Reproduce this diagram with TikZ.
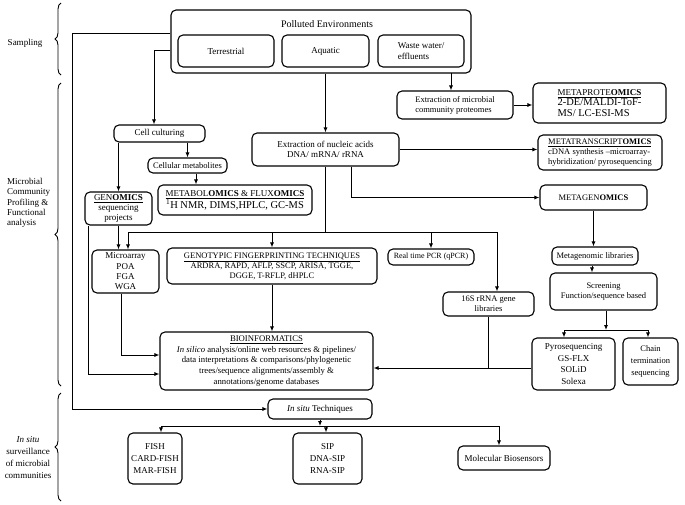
\documentclass[tikz,border=0pt]{standalone}
\usepackage{fontspec}
\setmainfont{Liberation Serif}
\usetikzlibrary{arrows.meta,decorations.pathreplacing}
\newcommand\fs{\fontsize{9}{10.3}\selectfont}
\newcommand\fsm{\fontsize{8.5}{10}\selectfont}
\newcommand\fbig{\fontsize{10.5}{12}\selectfont}
\begin{document}
\begin{tikzpicture}[x=1pt,y=-1pt,
  box/.style={draw, rounded corners=5pt, line width=1.1pt, inner sep=1pt, align=center, font=\fs},
  lbl/.style={inner sep=0pt, font=\fs},
  ln/.style={line width=0.9pt},
  arr/.style={line width=0.9pt, -{Latex[length=5pt,width=4pt]}},
  brc/.style={line width=0.9pt, decorate, decoration={brace, amplitude=6pt}}]
\useasboundingbox (0,0) rectangle (685,504);

% side labels and braces
\node[lbl] (lsamp) at (25,43) {Sampling};
\node[lbl, anchor=west, align=left] (lmcp) at (7,203) {Microbial\\Community\\Profiling \&\\Functional\\analysis};
\node[lbl, align=center, font=\fontsize{9}{12}\selectfont] (lins) at (28,458) {\textit{In situ}\\surveillance\\of microbial\\communities};
\draw[brc] (61,75) -- (61,3);
\draw[brc] (61,386) -- (61,83);
\draw[brc] (61,501) -- (61,393);

% polluted environments
\node[box, minimum width=300pt, minimum height=63pt] (pe) at (321,41.5) {};
\node[lbl, font=\fontsize{10}{12}\selectfont] (pet) at (327,24) {Polluted Environments};
\node[box, minimum width=96pt, minimum height=32pt] (terr) at (226,51) {Terrestrial};
\node[box, minimum width=87pt, minimum height=32pt] (aqua) at (325.5,51) {Aquatic};
\node[box, minimum width=86pt, minimum height=32pt, align=left] (waste) at (421,51) {Waste water/\\effluents};

% right column top
\node[box, minimum width=116pt, minimum height=28pt, align=left, font=\fsm] (prot) at (455,105) {Extraction of microbial\\community proteomes};
\node[box, minimum width=133pt, minimum height=40pt, align=left] (mprot) at (599.5,103) {\underline{METAPROTE\textbf{OMICS}}\\{\fbig 2-DE/MALDI-ToF-}\\{\fbig MS/ LC-ESI-MS}};
\node[box, minimum width=147pt, minimum height=33pt] (nuc) at (325.5,149.5) {Extraction of nucleic acids\\DNA/ mRNA/ rRNA};
\node[box, minimum width=124pt, minimum height=35pt, align=left, font=\fsm] (mtrans) at (600,152.5) {\underline{METATRANSCRIPT\textbf{OMICS}}\\cDNA synthesis –microarray-\\hybridization/ pyrosequencing};
\node[box, minimum width=107pt, minimum height=25pt, font=\fsm] (mgen) at (593.5,197.5) {METAGEN\textbf{OMICS}};

% left column
\node[box, minimum width=91pt, minimum height=17pt] (cell) at (159.5,133.5) {Cell culturing};
\node[box, minimum width=79pt, minimum height=15pt, font=\fsm] (cmet) at (187.5,165.5) {Cellular metabolites};
\node[box, minimum width=154pt, minimum height=30pt] (metab) at (235,200) {\underline{METABOL\textbf{OMICS} \& FLUX\textbf{OMICS}}\\{\fbig \textsuperscript{1}H NMR, DIMS,HPLC, GC-MS}};
\node[box, minimum width=67pt, minimum height=33pt] (gen) at (118.5,208.5) {\underline{GEN\textbf{OMICS}}\\sequencing\\projects};
\node[box, minimum width=67pt, minimum height=43pt] (marr) at (125.5,271.5) {Microarray\\POA\\FGA\\WGA};
\node[box, minimum width=210pt, minimum height=36pt, font=\fsm] (geno) at (272,266) {\underline{GENOTYPIC FINGERPRINTING TECHNIQUES}\\ARDRA, RAPD, AFLP, SSCP, ARISA, TGGE,\\DGGE, T-RFLP, dHPLC};
\node[box, minimum width=86pt, minimum height=16pt, font=\fontsize{8}{9}\selectfont] (qpcr) at (431,257) {Real time PCR (qPCR)};
\node[box, minimum width=91pt, minimum height=24pt, font=\fsm] (s16) at (488.5,304) {16S rRNA gene\\libraries};
\node[box, minimum width=86pt, minimum height=18pt, font=\fsm] (mlib) at (595,256) {Metagenomic libraries};
\node[box, minimum width=107pt, minimum height=37pt, font=\fsm] (scr) at (603.5,291.5) {Screening\\Function/sequence based};
\node[box, minimum width=213pt, minimum height=58pt, font=\fontsize{8.7}{10.8}\selectfont] (bio) at (266.5,361) {\underline{BIOINFORMATICS}\\\textit{In silico} analysis/online web resources \& pipelines/\\data interpretations \& comparisons/phylogenetic\\trees/sequence alignments/assembly \&\\annotations/genome databases};
\node[box, minimum width=83pt, minimum height=52pt, font=\fontsize{9}{11.5}\selectfont] (pyro) at (573.5,364) {Pyrosequencing\\GS-FLX\\SOLiD\\Solexa};
\node[box, minimum width=55pt, minimum height=47pt, font=\fontsize{8.5}{12}\selectfont] (chain) at (650.5,361.5) {Chain\\termination\\sequencing};

% in situ
\node[box, minimum width=104pt, minimum height=20pt] (insitu) at (320,409) {\textit{In situ} Techniques};
\node[box, minimum width=54pt, minimum height=51pt, font=\fontsize{9}{12}\selectfont] (fish) at (155,458.5) {FISH\\CARD-FISH\\MAR-FISH};
\node[box, minimum width=69pt, minimum height=51pt, font=\fontsize{9}{12}\selectfont] (sip) at (327.5,458.5) {SIP\\DNA-SIP\\RNA-SIP};
\node[box, minimum width=92pt, minimum height=24pt] (mbio) at (504,458) {Molecular Biosensors};

% coordinates for bends
\coordinate (b1) at (72,33);
\coordinate (b2) at (154,50);
\coordinate (bp) at (451,73);
\coordinate (jL) at (128,232);
\coordinate (jR) at (497,232);
\coordinate (jB) at (488.5,368);
\coordinate (jS) at (606,330);
\coordinate (jP) at (564,330);
\coordinate (jC) at (648,330);
\coordinate (jI) at (320,426);
\coordinate (jF) at (161,426);
\coordinate (jSi) at (326,426);
\coordinate (jM) at (499,426);

% connectors
\draw[arr] (pe.west |- b1) -- (b1) |- (insitu.west);
\draw[arr] (pe.west |- b2) -- (b2) -- (b2 |- cell.north);
\draw[arr] (pe.south -| nuc.north) -- (nuc.north);
\draw[arr] (bp) -- (bp |- prot.north);
\draw[arr] (prot.east) -- (prot.east -| mprot.west);
\draw[arr] (nuc.east) -- (nuc.east -| mtrans.west);
\draw[arr] ([xshift=25.5pt]nuc.south) |- (mgen.west);
\draw[ln] (nuc.south) -- (nuc.south |- jL);
\draw[ln] (jL) -- (jR);
\draw[arr] (jL) -- (jL |- marr.north);
\draw[arr] (geno.north |- jL) -- (geno.north);
\draw[arr] (qpcr.north |- jL) -- (qpcr.north);
\draw[arr] (jR) -- (jR |- s16.north);

\draw[arr] (cell.south -| gen.north) -- (gen.north);
\draw[arr] (cell.south -| cmet.north) -- (cmet.north);
\draw[arr] ([xshift=8.5pt]cmet.south) -- ([xshift=8.5pt]cmet.south |- metab.north);
\draw[arr] (gen.south) -- (gen.south |- marr.north);
\draw[arr] ([xshift=-30.5pt]gen.south) |- ([yshift=-13pt]bio.west);
\draw[arr] ([xshift=-4.5pt]marr.south) |- ([yshift=6pt]bio.west);
\draw[arr] (geno.south) -- (geno.south |- bio.north);

\draw[ln] (s16.south) -- (jB);
\draw[ln] (pyro.west |- jB) -- (jB);
\draw[arr] (jB) -- (jB -| bio.east);

\draw[arr] (mgen.south) -- (mgen.south |- mlib.north);
\draw[arr] ([xshift=-3pt]mlib.south) -- ([xshift=-3pt]mlib.south |- scr.north);
\draw[arr] (scr.south -| jS) -- (jS);
\draw[ln] (jP) -- (jC);
\draw[arr] (jP) -- (jP |- pyro.north);
\draw[arr] (jC) -- (jC |- chain.north);

\draw[arr] (insitu.south) -- (jI);
\draw[ln] (jF) -- (jM);
\draw[arr] (jF) -- (jF |- fish.north);
\draw[arr] (jSi) -- (jSi |- sip.north);
\draw[arr] (jM) -- (jM |- mbio.north);
\end{tikzpicture}
\end{document}
